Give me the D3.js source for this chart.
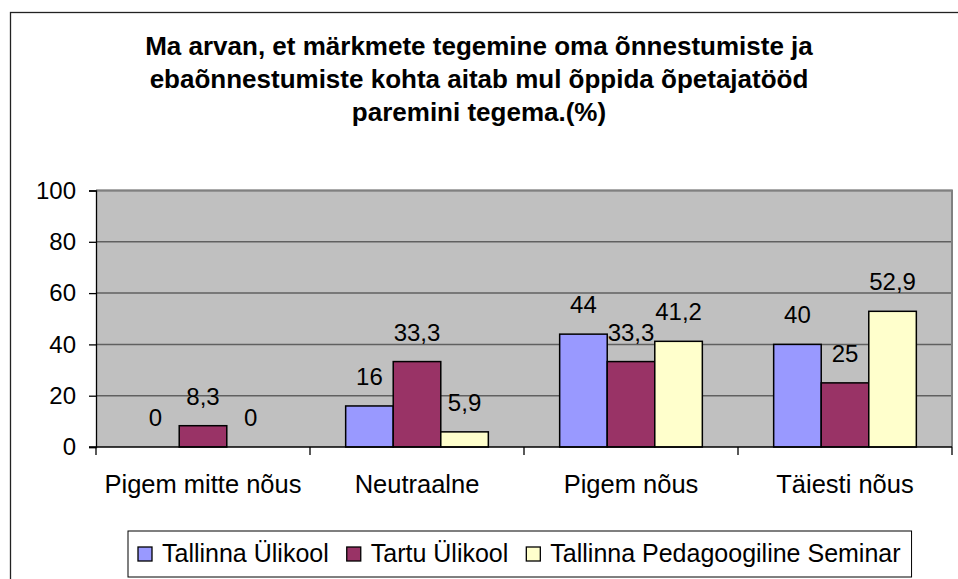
<!DOCTYPE html>
<html>
<head>
<meta charset="utf-8">
<script src="https://cdn.jsdelivr.net/npm/d3@7"></script>
<style>
html,body{margin:0;padding:0;background:#fff;}
svg{display:block;font-family:"Liberation Sans",Arial,sans-serif;}
</style>
</head>
<body>
<svg id="chart" width="958" height="579"></svg>
<script>
const titleLines = ["Ma arvan, et märkmete tegemine oma õnnestumiste ja", "ebaõnnestumiste kohta aitab mul õppida õpetajatööd", "paremini tegema.(%)"];
const categories = ["Pigem mitte nõus", "Neutraalne", "Pigem nõus", "Täiesti nõus"];
const seriesNames = ["Tallinna Ülikool", "Tartu Ülikool", "Tallinna Pedagoogiline Seminar"];
const tallinnaUlikool = [0, 16, 44, 40];
const tartuUlikool = [8.3, 33.3, 33.3, 25];
const tps = [0, 5.9, 41.2, 52.9];
const labelsTU = ["0", "16", "44", "40"];
const labelsTartu = ["8,3", "33,3", "33,3", "25"];
const labelsTPS = ["0", "5,9", "41,2", "52,9"];
const yTicks = [0, 20, 40, 60, 80, 100];
const colors = ["#9999FF", "#993366", "#FFFFCC"];

const series = [tallinnaUlikool, tartuUlikool, tps];
const seriesLabels = [labelsTU, labelsTartu, labelsTPS];

const svg = d3.select("#chart");
// outer frame (cut off at right/bottom)
svg.append("rect").attr("x", 10.5).attr("y", 12.5).attr("width", 960).attr("height", 580)
  .attr("fill", "#fff").attr("stroke", "#222").attr("stroke-width", 1.3);

// title
const title = svg.append("text").attr("text-anchor", "middle").attr("font-weight", "bold")
  .attr("font-size", 26).attr("fill", "#000");
titleLines.forEach((l, i) => {
  title.append("tspan").attr("x", 479).attr("y", 55 + i * 33).text(l);
});

const pLeft = 96, pRight = 952, pTop = 190.5, pBottom = 447;
const x0 = d3.scaleBand().domain(categories).range([pLeft, pRight]).paddingInner(0).paddingOuter(0);
const x1 = d3.scaleBand().domain(d3.range(series.length))
  .range([x0.bandwidth() / 6, x0.bandwidth() * 5 / 6]).padding(0);
const y = d3.scaleLinear().domain([0, 100]).range([pBottom, pTop]);

// plot background
svg.append("rect").attr("x", pLeft).attr("y", pTop).attr("width", pRight - pLeft).attr("height", pBottom - pTop)
  .attr("fill", "#C0C0C0");
// gridlines
svg.append("g").selectAll("line").data(yTicks.filter(t => t > 0)).join("line")
  .attr("x1", pLeft).attr("x2", pRight).attr("y1", d => y(d)).attr("y2", d => y(d))
  .attr("stroke", "#606060").attr("stroke-width", 1.5);
// plot border
svg.append("path").attr("d", `M${pLeft},${pTop}H${pRight}V${pBottom}`)
  .attr("fill", "none").attr("stroke", "#808080").attr("stroke-width", 2);

// bars
const groups = svg.append("g").selectAll("g").data(categories).join("g")
  .attr("transform", d => `translate(${x0(d)},0)`);
series.forEach((s, si) => {
  groups.append("rect")
    .attr("x", x1(si)).attr("width", x1.bandwidth())
    .attr("y", (d, i) => y(s[i])).attr("height", (d, i) => y(0) - y(s[i]))
    .attr("fill", colors[si]).attr("stroke", "#000").attr("stroke-width", 1.5)
    .attr("display", (d, i) => s[i] > 0 ? null : "none");
  groups.append("text")
    .attr("x", x1(si) + x1.bandwidth() / 2).attr("y", (d, i) => y(s[i]) - 21)
    .attr("text-anchor", "middle").attr("font-size", 24).attr("fill", "#000")
    .text((d, i) => seriesLabels[si][i]);
});

// y axis
const yAxis = d3.axisLeft(y).tickValues(yTicks).tickSize(7).tickPadding(13);
const yg = svg.append("g").attr("transform", `translate(${pLeft},0)`).call(yAxis);
yg.selectAll("text").attr("font-size", 24).attr("fill", "#000").attr("font-family", "Liberation Sans, Arial, sans-serif");
yg.selectAll("line").attr("stroke", "#000").attr("stroke-width", 1.3);
yg.select(".domain").attr("stroke", "#000").attr("stroke-width", 1.3);

// x axis
const xg = svg.append("g").attr("transform", `translate(0,${pBottom})`);
xg.append("line").attr("x1", pLeft - 7).attr("x2", pRight).attr("y1", 0).attr("y2", 0)
  .attr("stroke", "#000").attr("stroke-width", 1.3);
const bounds = categories.map(c => x0(c)).concat([pRight]);
xg.selectAll("line.tick").data(bounds).join("line").attr("class", "tick")
  .attr("x1", d => d).attr("x2", d => d).attr("y1", 0).attr("y2", 8)
  .attr("stroke", "#000").attr("stroke-width", 1.3);
xg.selectAll("text").data(categories).join("text")
  .attr("x", d => x0(d) + x0.bandwidth() / 2).attr("y", 46)
  .attr("text-anchor", "middle").attr("font-size", 25.5).attr("fill", "#000").text(d => d);

// legend
const lg = svg.append("g");
const lbox = lg.append("rect").attr("y", 531).attr("height", 46).attr("fill", "#fff")
  .attr("stroke", "#000").attr("stroke-width", 1);
let cx = 138;
seriesNames.forEach((n, i) => {
  lg.append("rect").attr("x", cx).attr("y", 547).attr("width", 14).attr("height", 14)
    .attr("fill", colors[i]).attr("stroke", "#000").attr("stroke-width", 1.3);
  const t = lg.append("text").attr("x", cx + 24).attr("y", 562).attr("font-size", 25).attr("fill", "#000").text(n);
  cx = cx + 24 + t.node().getComputedTextLength() + (i < seriesNames.length - 1 ? 18 : 0);
});
lbox.attr("x", 128).attr("width", cx - 128 + 11);
</script>
</body>
</html>
